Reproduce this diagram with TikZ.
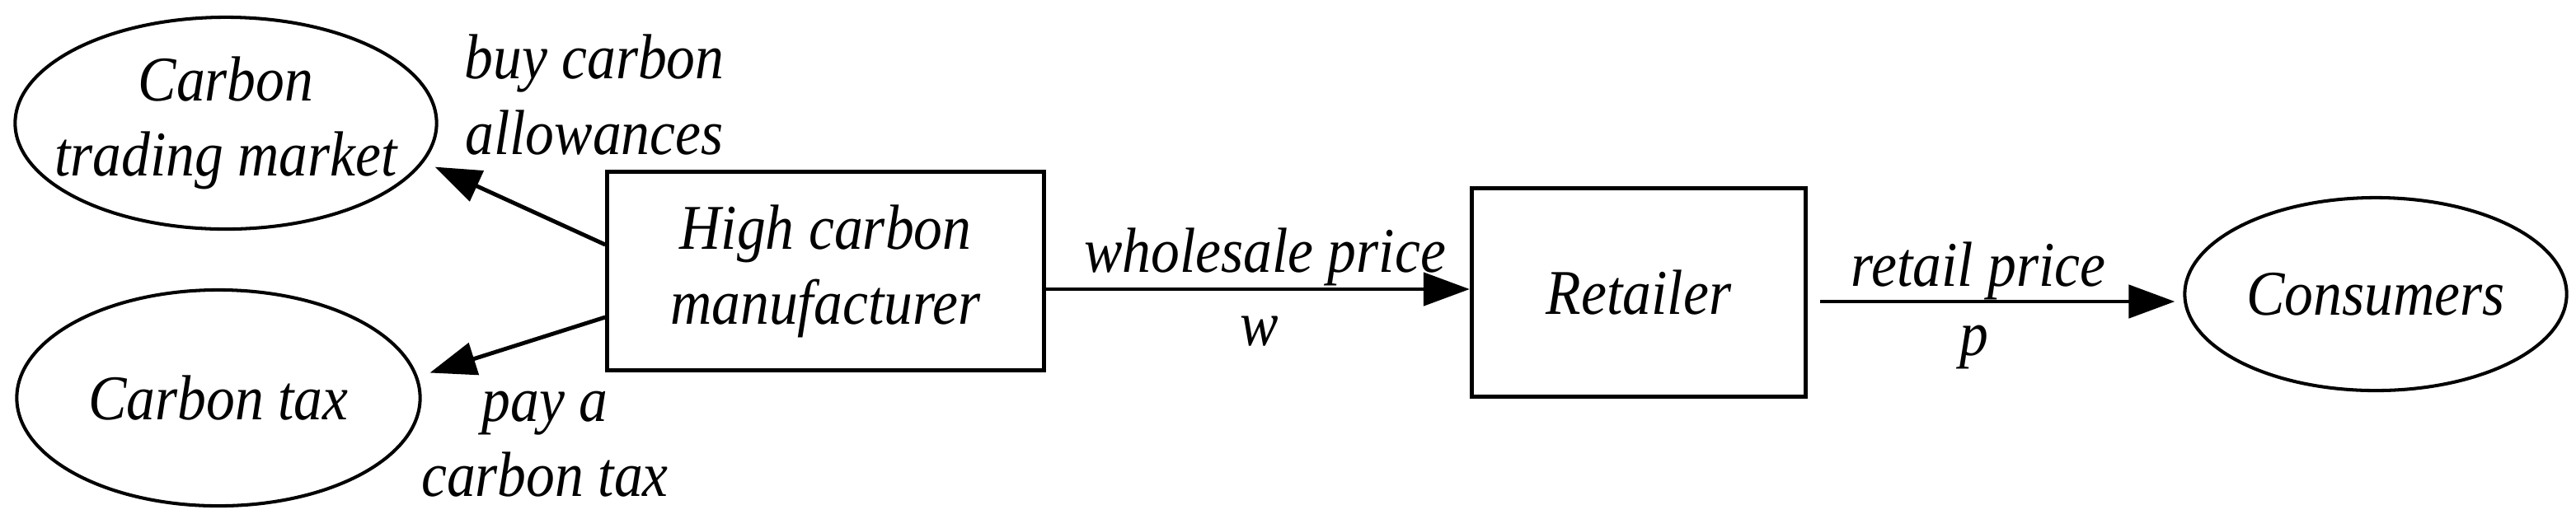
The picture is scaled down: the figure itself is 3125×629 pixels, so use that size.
\documentclass[tikz,border=0pt]{standalone}
\usepackage{fontspec}
\setmainfont{Liberation Serif}[FakeStretch=0.9]
\usetikzlibrary{arrows.meta,shapes.geometric,calc}
\begin{document}
\begin{tikzpicture}[x=0.01cm,y=-0.01cm,
  every node/.style={font=\itshape\fontsize{22}{25.9}\selectfont, inner sep=0pt, align=center},
  oval/.style={ellipse, draw, line width=1.15pt},
  boxnode/.style={rectangle, draw, line width=1.45pt},
  arr/.style={line width=1.4pt, -{Triangle[length=0.56cm,width=0.4cm]}},
  lbl/.style={anchor=base}]
\useasboundingbox (0,0) rectangle (3125,629);
% nodes
\node[oval, minimum width=5.11cm, minimum height=2.57cm] (ctm) at (274,149.5)
  {\makebox[0pt]{Carbon}\\\makebox[0pt]{trading market}};
\node[oval, minimum width=4.89cm, minimum height=2.62cm] (ctax) at (265,483) {Carbon tax};
\node[boxnode, minimum width=5.29cm, minimum height=2.40cm] (m) at (1001.5,329) {High carbon\\manufacturer};
\node[boxnode, minimum width=4.05cm, minimum height=2.52cm] (r) at (1988,355) {Retailer};
\node[oval, minimum width=4.63cm, minimum height=2.34cm] (cons) at (2882,357) {Consumers};
% connectors
\coordinate (t1) at (527.5,202.6);
\coordinate (t2) at (521.5,452.5);
\draw[arr] ($(m.west)+(0,-32)$) -- (t1);
\draw[arr] ($(m.west)+(0,56)$) -- (t2);
\coordinate (w0) at ($(m.east)+(0,22)$);
\draw[arr] (w0) -- (w0 -| r.west);
\coordinate (rs) at ($(r.east)+(15,11)$);
\draw[arr] (rs) -- ($(rs -| cons.west)+(-10,0)$);
% labels
\node (lbuy) at (721,115) {buy carbon\\allowances};
\node (lpay) at (661,539.5) {pay a\\carbon tax};
\node[lbl] (lw) at (1534.5,330) {wholesale price};
\node[lbl] (lwv) at (1528,419) {w};
\node[lbl] (lr) at (2400,347) {retail price};
\node[lbl] (lp) at (2395,431) {p};
\end{tikzpicture}
\end{document}
